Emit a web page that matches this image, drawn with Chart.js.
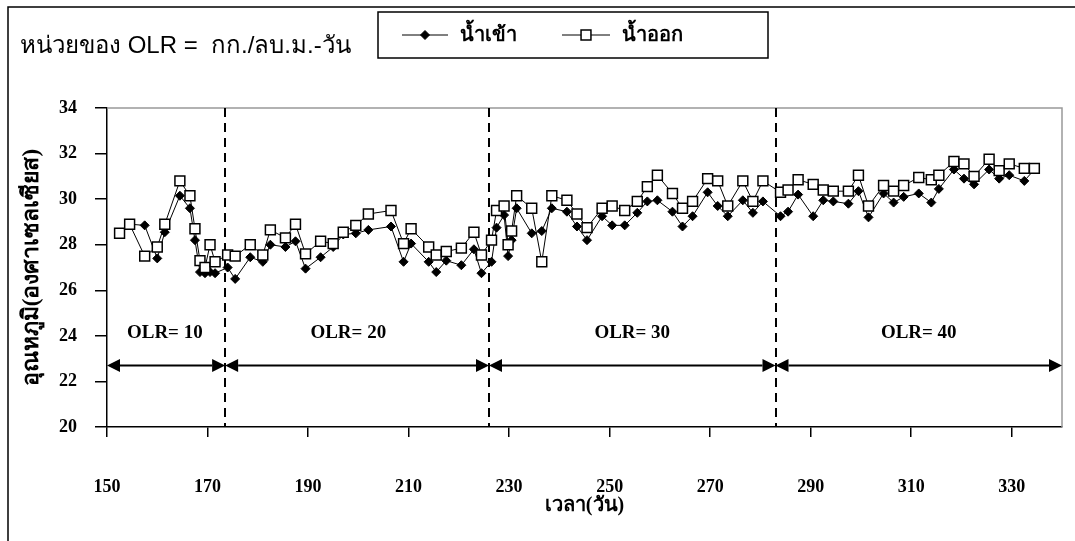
<!DOCTYPE html>
<html>
<head>
<meta charset="utf-8">
<script src="https://cdn.jsdelivr.net/npm/chart.js@4.4.1/dist/chart.umd.min.js"></script>
<style>
  html, body { margin: 0; padding: 0; background: #fff; }
</style>
</head>
<body>
<canvas id="chart" width="1075" height="541"></canvas>
<script>
// days (x), with inlet / outlet temperature (C)
const days = [152.5, 154.5, 157.5, 160, 161.5, 164.5, 166.5, 167.5, 168.5, 169.5,
  170.5, 171.5, 174, 175.5, 178.5, 181, 182.5, 185.5, 187.5, 189.5,
  192.5, 195, 197, 199.5, 202, 206.5, 209, 210.5, 214, 215.5,
  217.5, 220.5, 223, 224.5, 226.5, 227.5, 229, 229.8, 230.5, 231.5,
  234.5, 236.5, 238.5, 241.5, 243.5, 245.5, 248.5, 250.5, 253, 255.5,
  257.5, 259.5, 262.5, 264.5, 266.5, 269.5, 271.5, 273.5, 276.5, 278.5,
  280.5, 284, 285.5, 287.5, 290.5, 292.5, 294.5, 297.5, 299.5, 301.5,
  304.5, 306.5, 308.5, 311.5, 314, 315.5, 318.5, 320.5, 322.5, 325.5,
  327.5, 329.5, 332.5, 334.5];
const inflow = [28.5, 28.9, 28.85, 27.4, 28.55, 30.15, 29.6, 28.2, 26.8, 26.75,
  26.8, 26.75, 27.0, 26.5, 27.45, 27.25, 28.0, 27.9, 28.15, 26.95,
  27.45, 27.9, 28.45, 28.5, 28.65, 28.8, 27.25, 28.05, 27.25, 26.8,
  27.3, 27.1, 27.8, 26.75, 27.25, 28.75, 29.3, 27.5, 28.2, 29.6,
  28.5, 28.6, 29.6, 29.45, 28.8, 28.2, 29.25, 28.85, 28.85, 29.4,
  29.9, 29.95, 29.45, 28.8, 29.25, 30.3, 29.7, 29.25, 29.95, 29.4,
  29.9, 29.25, 29.45, 30.2, 29.25, 29.95, 29.9, 29.8, 30.35, 29.2,
  30.25, 29.85, 30.1, 30.25, 29.85, 30.45, 31.3, 30.9, 30.65, 31.3,
  30.9, 31.05, 30.8, 31.3];
const outflow = [28.5, 28.9, 27.5, 27.9, 28.9, 30.8, 30.15, 28.7, 27.3, 27.0,
  28.0, 27.25, 27.55, 27.5, 28.0, 27.55, 28.65, 28.3, 28.9, 27.6,
  28.15, 28.05, 28.55, 28.85, 29.35, 29.5, 28.05, 28.7, 27.9, 27.55,
  27.7, 27.85, 28.55, 27.55, 28.2, 29.5, 29.7, 28.0, 28.6, 30.15,
  29.6, 27.25, 30.15, 29.95, 29.35, 28.75, 29.6, 29.7, 29.5, 29.9,
  30.55, 31.05, 30.25, 29.6, 29.9, 30.9, 30.8, 29.7, 30.8, 29.9,
  30.8, 30.3, 30.4, 30.85, 30.65, 30.4, 30.35, 30.35, 31.05, 29.7,
  30.6, 30.35, 30.6, 30.95, 30.85, 31.05, 31.65, 31.55, 31.0, 31.75,
  31.25, 31.55, 31.35, 31.35];

const xTicks = [150, 170, 190, 210, 230, 250, 270, 290, 310, 330];
const yTicks = [20, 22, 24, 26, 28, 30, 32, 34];

// OLR periods: boundaries (days), labels and where the labels sit
const olrBounds = [150, 173.5, 226, 283, 340];
const olrLabels = ['OLR= 10', 'OLR= 20', 'OLR= 30', 'OLR= 40'];
const olrLabelDays = [161.5, 198, 254.5, 311.5];
const olrLabelY = 24.1;
const arrowY = 22.7;

const seriesNames = ['น้ำเข้า', 'น้ำออก'];

const serif = "'Liberation Serif', 'Times New Roman', serif";
const sans = "'Liberation Sans', Arial, sans-serif";

const decor = {
  id: 'decor',
  beforeDraw(chart) {
    const ctx = chart.ctx;
    ctx.save();
    ctx.fillStyle = '#fff';
    ctx.fillRect(0, 0, chart.width, chart.height);
    // outer frame
    ctx.strokeStyle = '#000';
    ctx.lineWidth = 1.5;
    ctx.strokeRect(8, 7, 1200, 700);
    ctx.restore();
  },
  beforeDatasetsDraw(chart) {
    const { ctx, chartArea: a, scales: { x, y } } = chart;
    ctx.save();
    // plot area border
    ctx.strokeStyle = '#999';
    ctx.lineWidth = 1.5;
    ctx.beginPath();
    ctx.moveTo(a.left, a.top);
    ctx.lineTo(a.right, a.top);
    ctx.lineTo(a.right, a.bottom);
    ctx.stroke();

    // dashed period separators
    ctx.strokeStyle = '#000';
    ctx.lineWidth = 2;
    ctx.setLineDash([9, 6]);
    olrBounds.slice(1, -1).forEach(d => {
      const px = Math.round(x.getPixelForValue(d));
      ctx.beginPath();
      ctx.moveTo(px, a.top);
      ctx.lineTo(px, a.bottom);
      ctx.stroke();
    });
    ctx.setLineDash([]);

    // double arrows
    const ay = y.getPixelForValue(arrowY);
    const head = 13, hw = 6.5;
    ctx.fillStyle = '#000';
    for (let i = 0; i < olrLabels.length; i++) {
      const x0 = x.getPixelForValue(olrBounds[i]);
      const x1 = x.getPixelForValue(olrBounds[i + 1]);
      ctx.beginPath();
      ctx.moveTo(x0 + head, ay);
      ctx.lineTo(x1 - head, ay);
      ctx.stroke();
      ctx.beginPath();
      ctx.moveTo(x0, ay);
      ctx.lineTo(x0 + head, ay - hw);
      ctx.lineTo(x0 + head, ay + hw);
      ctx.closePath();
      ctx.fill();
      ctx.beginPath();
      ctx.moveTo(x1, ay);
      ctx.lineTo(x1 - head, ay - hw);
      ctx.lineTo(x1 - head, ay + hw);
      ctx.closePath();
      ctx.fill();
    }

    // OLR labels
    ctx.font = 'bold 19px ' + serif;
    ctx.textAlign = 'center';
    ctx.textBaseline = 'middle';
    olrLabels.forEach((t, i) => {
      ctx.fillText(t, x.getPixelForValue(olrLabelDays[i]), y.getPixelForValue(olrLabelY));
    });
    ctx.restore();
  },
  afterDraw(chart) {
    const { ctx, chartArea: a } = chart;
    ctx.save();
    ctx.fillStyle = '#000';
    ctx.strokeStyle = '#000';

    // units note
    ctx.font = '24px ' + sans;
    ctx.textAlign = 'left';
    ctx.textBaseline = 'middle';
    ctx.fillText('หน่วยของ OLR =  กก./ลบ.ม.-วัน', 20, 46);

    // legend box
    ctx.lineWidth = 1.5;
    ctx.strokeRect(378, 12, 390, 46);
    const ly = 35;
    const samples = [[402, 448, 460], [562, 610, 622]];
    chart.data.datasets.slice().sort((p, q) => p.legendIndex - q.legendIndex).forEach((ds, i) => {
      const [s0, s1, tx] = samples[i];
      ctx.lineWidth = 1;
      ctx.strokeStyle = '#000';
      ctx.beginPath();
      ctx.moveTo(s0, ly);
      ctx.lineTo(s1, ly);
      ctx.stroke();
      ctx.fillStyle = ds.pointBackgroundColor;
      ctx.lineWidth = ds.pointBorderWidth;
      Chart.helpers.drawPoint(ctx, {
        pointStyle: ds.pointStyle, radius: ds.pointRadius, borderWidth: ds.pointBorderWidth
      }, (s0 + s1) / 2, ly);
      ctx.fillStyle = '#000';
      ctx.font = 'bold 20px ' + sans;
      ctx.fillText(ds.label, tx, ly);
    });

    // axis titles
    ctx.font = 'bold 20px ' + serif;
    ctx.textAlign = 'center';
    ctx.fillText('เวลา(วัน)', (a.left + a.right) / 2, 506);
    ctx.font = 'bold 23px ' + serif;
    ctx.translate(32, (a.top + a.bottom) / 2);
    ctx.rotate(-Math.PI / 2);
    ctx.fillText('อุณหภูมิ(องศาเซลเซียส)', 0, 0);
    ctx.restore();
  }
};

const toPoints = vals => vals.map((v, i) => ({ x: days[i], y: v }));

new Chart(document.getElementById('chart'), {
  type: 'scatter',
  data: {
    datasets: [
      {
        label: seriesNames[0],
        legendIndex: 0,
        data: toPoints(inflow),
        showLine: true,
        borderColor: '#000',
        borderWidth: 1,
        pointStyle: 'rectRot',
        pointRadius: 4.5,
        pointBackgroundColor: '#000',
        pointBorderColor: '#000',
        pointBorderWidth: 1,
        order: 2
      },
      {
        label: seriesNames[1],
        legendIndex: 1,
        data: toPoints(outflow),
        showLine: true,
        borderColor: '#000',
        borderWidth: 1,
        pointStyle: 'rect',
        pointRadius: 7,
        pointBackgroundColor: '#fff',
        pointBorderColor: '#000',
        pointBorderWidth: 1.5,
        order: 1
      }
    ]
  },
  options: {
    responsive: false,
    animation: false,
    layout: { padding: { left: 0, top: 108, right: 13, bottom: 0 } },
    plugins: { legend: { display: false }, tooltip: { enabled: false } },
    scales: {
      x: {
        type: 'linear',
        min: 150,
        max: 340,
        afterBuildTicks: s => { s.ticks = xTicks.map(v => ({ value: v })); },
        afterFit: s => { s.height = 114; },
        grid: { drawOnChartArea: false, color: '#000', tickLength: 10, lineWidth: 1.5 },
        border: { color: '#000', width: 1.5 },
        ticks: { color: '#000', padding: 40, maxRotation: 0, font: { family: serif, weight: 'bold', size: 18 } }
      },
      y: {
        min: 20,
        max: 34,
        afterBuildTicks: s => { s.ticks = yTicks.map(v => ({ value: v })); },
        afterFit: s => { s.width = 107; },
        grid: { drawOnChartArea: false, color: '#000', tickLength: 12, lineWidth: 1.5 },
        border: { color: '#000', width: 1.5 },
        ticks: { color: '#000', padding: 18, font: { family: serif, weight: 'bold', size: 18 } }
      }
    }
  },
  plugins: [decor]
});
</script>
</body>
</html>
